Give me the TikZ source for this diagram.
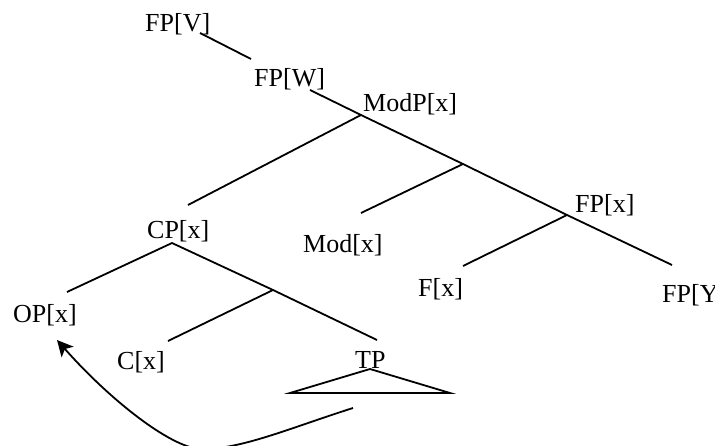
\documentclass[tikz,border=0pt]{standalone}
\usepackage{fontspec}
\setmainfont{Liberation Serif}
\usetikzlibrary{arrows.meta}
\begin{document}
\begin{tikzpicture}[x=1pt,y=-1pt,
  lbl/.style={anchor=base west,inner sep=0pt,font=\fontsize{26}{31}\selectfont},
  edge/.style={line width=1.8pt},
  mv/.style={line width=1.8pt,-{Stealth[length=16pt,width=16pt,inset=4pt]}}]
\useasboundingbox (0,0) rectangle (715,446);
% labels
\node[lbl] (fpv) at (145,32) {FP[V]};
\node[lbl] (fpw) at (254,87) {FP[W]};
\node[lbl] (modp) at (363,112) {ModP[x]};
\node[lbl] (cp) at (147,239) {CP[x]};
\node[lbl] (op) at (13,323) {OP[x]};
\node[lbl] (mod) at (303,253) {Mod[x]};
\node[lbl] (fpx) at (575,213) {FP[x]};
\node[lbl] (f) at (418,297) {F[x]};
\node[lbl] (fpy) at (662,303) {FP[Y]};
\node[lbl] (c) at (117,370) {C[x]};
\node[lbl] (tp) at (355,368) {TP};
% junctions and line ends
\coordinate (v1) at (200,33);
\coordinate (v2) at (251,59);
\coordinate (wtop) at (310,90);
\coordinate (modj) at (361,115);
\coordinate (modsub) at (463,164);
\coordinate (fpj) at (567,215);
\coordinate (fpyend) at (672,265);
\coordinate (cpend) at (188,205);
\coordinate (cpj) at (172,243);
\coordinate (opend) at (67,292);
\coordinate (cbar) at (273,290);
\coordinate (tpend) at (377,340);
\coordinate (cend) at (168,341);
\coordinate (modend) at (361,213);
\coordinate (fend) at (463,266);
\coordinate (ta) at (370,369);
\coordinate (tl) at (290,393);
\coordinate (tr) at (450,393);
\coordinate (ms) at (353,408);
\coordinate (mb) at (200,449);
\coordinate (me) at (57,340);
% tree
\draw[edge] (v1) -- (v2);
\draw[edge] (wtop) -- (modj) -- (modsub) -- (fpj) -- (fpyend);
\draw[edge] (modj) -- (cpend);
\draw[edge] (modsub) -- (modend);
\draw[edge] (fpj) -- (fend);
\draw[edge] (cpj) -- (opend);
\draw[edge] (cpj) -- (cbar) -- (tpend);
\draw[edge] (cbar) -- (cend);
\draw[edge,line join=miter] (ta) -- (tl) -- (tr) -- cycle;
% movement arrow
\draw[mv] (ms) .. controls (290,428) and (240,450) .. (mb)
               .. controls (170,447) and (110,400) .. (me);
\end{tikzpicture}
\end{document}
